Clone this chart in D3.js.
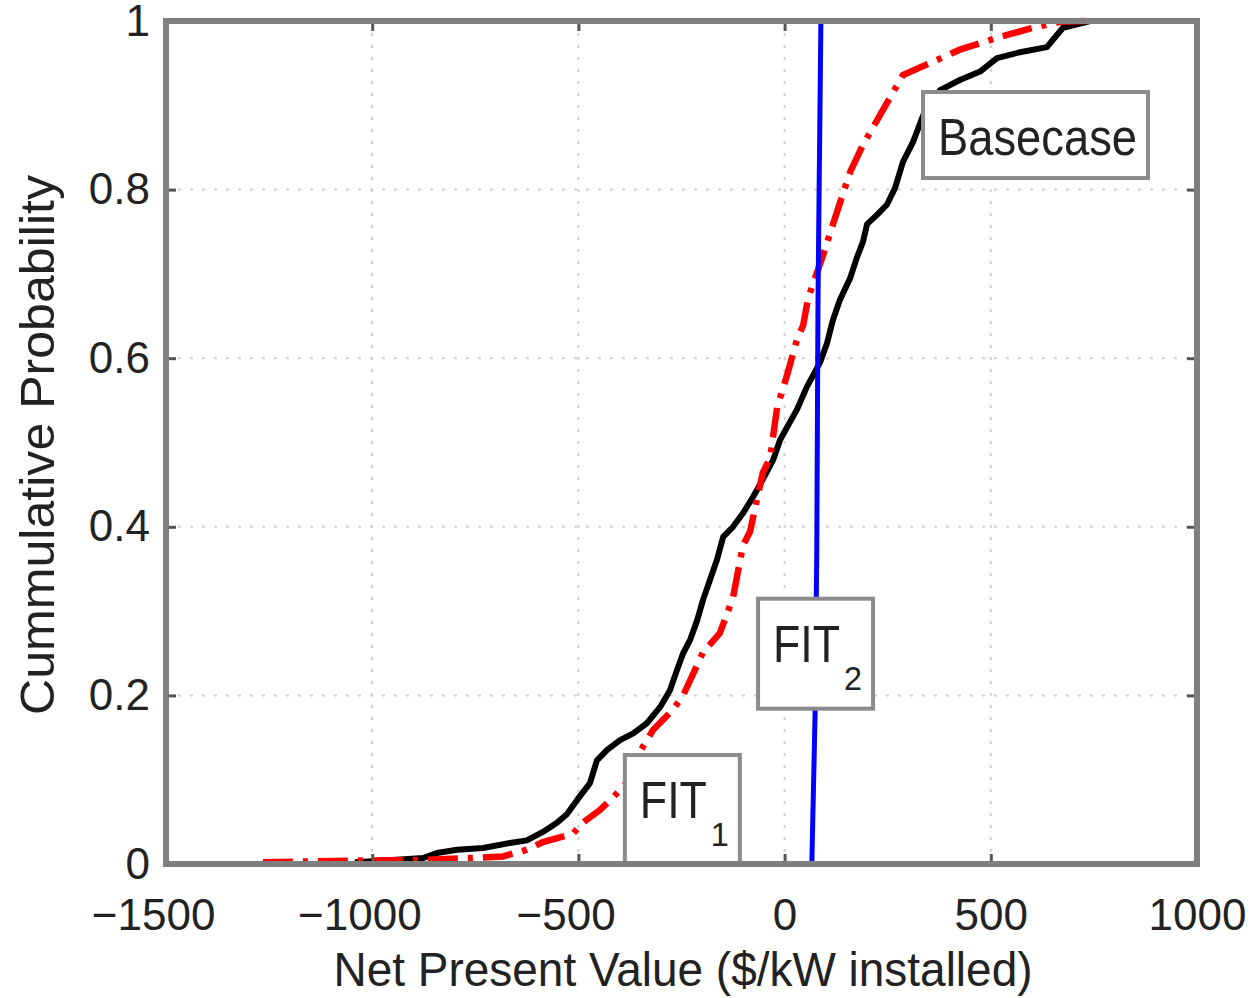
<!DOCTYPE html>
<html>
<head>
<meta charset="utf-8">
<script src="https://cdn.jsdelivr.net/npm/d3@7"></script>
<style>
  body { margin: 0; background: #fff; }
  svg text { font-family: "Liberation Sans", Arial, sans-serif; fill: #222; }
</style>
</head>
<body>
<script>
// NPV cumulative distributions
var baseX = [-1042,-940,-877,-843,-794,-731,-666,-625,-586,-552,-528,-503,-472,-455,-431,-399,-367,-334,-302,-278,-261,-246,-229,-212,-198,-181,-164,-149,-125,-101,-77,-53,-28,-11,6,30,54,74,86,103,117,134,159,175,190,200,224,248,268,287,311,336,377,425,474,515,571,636,675,741];
var baseY = [0.002,0.005,0.007,0.013,0.017,0.019,0.025,0.028,0.038,0.049,0.059,0.076,0.096,0.123,0.135,0.147,0.155,0.167,0.186,0.206,0.230,0.250,0.266,0.289,0.313,0.337,0.361,0.388,0.400,0.416,0.435,0.456,0.479,0.503,0.518,0.539,0.566,0.584,0.595,0.618,0.645,0.669,0.695,0.719,0.738,0.759,0.770,0.782,0.802,0.833,0.856,0.888,0.918,0.930,0.940,0.956,0.963,0.969,0.992,1.0];

var fit1X = [-1265,-1037,-867,-763,-683,-625,-586,-513,-489,-448,-416,-387,-351,-319,-271,-246,-212,-198,-157,-125,-101,-84,-53,-35,-18,6,30,45,57,93,122,159,190,231,287,352,425,515,602,668,728];
var fit1Y = [0.002,0.004,0.005,0.007,0.009,0.017,0.026,0.036,0.049,0.064,0.079,0.094,0.133,0.159,0.183,0.200,0.236,0.251,0.274,0.316,0.378,0.394,0.464,0.482,0.542,0.580,0.622,0.639,0.671,0.722,0.766,0.821,0.853,0.888,0.936,0.950,0.966,0.980,0.992,0.999,1.0];

var fit2X = [66,74,78,81,88];
var fit2Y = [0,0.18,0.37,0.67,1];

var xTicks = [-1500,-1000,-500,0,500,1000];
var yTicks = [0,0.2,0.4,0.6,0.8,1];
var yTickLabels = ["0","0.2","0.4","0.6","0.8","1"];

var annoText = ["Basecase","FIT","FIT"];
var annoSub = ["","2","1"];
var annoX = [372,-28,-351];
var annoY = [0.841,0.240,0.0546];
var annoWidth = [199,67,67];

var margin = {top: 21, right: 58, bottom: 134, left: 166};
var W = 1255, H = 998;
var width = W - margin.left - margin.right,
    height = H - margin.top - margin.bottom;

var svg = d3.select("body").append("svg")
    .attr("width", W)
    .attr("height", H);

var g = svg.append("g")
    .attr("transform", "translate(" + margin.left + "," + margin.top + ")");

var x = d3.scaleLinear().domain([-1500, 1000]).range([0, width]);
var y = d3.scaleLinear().domain([0, 1]).range([height, 0]);

// dotted grid
g.selectAll(".vgrid")
    .data(xTicks.slice(1, -1))
    .enter().append("line")
    .attr("x1", function(d) { return x(d); })
    .attr("x2", function(d) { return x(d); })
    .attr("y1", 0).attr("y2", height)
    .style("stroke", "#cfcfcf")
    .style("stroke-width", 2)
    .style("stroke-dasharray", "3,9");

g.selectAll(".hgrid")
    .data(yTicks.slice(1, -1))
    .enter().append("line")
    .attr("x1", 0).attr("x2", width)
    .attr("y1", function(d) { return y(d); })
    .attr("y2", function(d) { return y(d); })
    .style("stroke", "#cfcfcf")
    .style("stroke-width", 2)
    .style("stroke-dasharray", "3,9");

var line = d3.line()
    .x(function(d) { return x(d[0]); })
    .y(function(d) { return y(d[1]); });

g.append("path")
    .datum(d3.zip(baseX, baseY))
    .attr("d", line)
    .style("fill", "none")
    .style("stroke", "#000")
    .style("stroke-width", 6)
    .style("stroke-linejoin", "round");

g.append("path")
    .datum(d3.zip(fit1X, fit1Y))
    .attr("d", line)
    .style("fill", "none")
    .style("stroke", "#ff0000")
    .style("stroke-width", 6.5)
    .style("stroke-dasharray", "30,10,5,10");

g.append("path")
    .datum(d3.zip(fit2X, fit2Y))
    .attr("d", line)
    .style("fill", "none")
    .style("stroke", "#0000ff")
    .style("stroke-width", 5);

// text annotations with boxes
annoText.forEach(function(t, i) {
  var a = g.append("g");
  var box = a.append("rect");
  var txt = a.append("text")
      .attr("x", x(annoX[i]))
      .attr("y", y(annoY[i]))
      .style("font-size", "52px");
  txt.append("tspan")
      .attr("textLength", annoWidth[i])
      .attr("lengthAdjust", "spacingAndGlyphs")
      .text(t);
  if (annoSub[i]) {
    txt.append("tspan")
        .attr("dx", 4)
        .attr("dy", 28)
        .style("font-size", "34px")
        .attr("textLength", 18)
        .attr("lengthAdjust", "spacingAndGlyphs")
        .text(annoSub[i]);
  }
  var bb = txt.node().getBBox();
  box.attr("x", bb.x - 15)
      .attr("y", bb.y - 16)
      .attr("width", bb.width + 26)
      .attr("height", bb.height + 28)
      .style("fill", "#fff")
      .style("stroke", "#8c8c8c")
      .style("stroke-width", 4);
});

// axes with inward ticks
var xAxis = g.append("g")
    .attr("transform", "translate(0," + height + ")")
    .call(d3.axisBottom(x).tickValues(xTicks).tickSizeInner(-10).tickSizeOuter(0).tickPadding(35)
      .tickFormat(function(d) { return Math.abs(d); }));
xAxis.selectAll("text").style("font-size", "44px");
xAxis.selectAll(".tick").each(function(d) {
  if (d < 0) {
    var t = d3.select(this).select("text");
    var w = t.node().getComputedTextLength();
    d3.select(this).append("text")
        .attr("x", -w / 2)
        .attr("y", 35)
        .attr("dy", "0.71em")
        .style("text-anchor", "end")
        .style("font-size", "44px")
        .text("\u2212");
  }
});

var yAxis = g.append("g")
    .call(d3.axisLeft(y).tickValues(yTicks).tickSizeInner(-10).tickSizeOuter(0).tickPadding(16)
      .tickFormat(function(d, i) { return yTickLabels[i]; }));
yAxis.selectAll("text").style("font-size", "44px");

g.append("g").call(d3.axisTop(x).tickValues(xTicks).tickSizeInner(-10).tickSizeOuter(0).tickFormat(""));
g.append("g").attr("transform", "translate(" + width + ",0)")
    .call(d3.axisRight(y).tickValues(yTicks).tickSizeInner(-10).tickSizeOuter(0).tickFormat(""));

g.selectAll(".domain").remove();
g.selectAll(".tick line").style("stroke", "#555").style("stroke-width", 3);

g.append("rect")
    .attr("x", 0).attr("y", 0)
    .attr("width", width).attr("height", height)
    .style("fill", "none")
    .style("stroke", "#7f7f7f")
    .style("stroke-width", 6);

// axis titles
svg.append("text")
    .attr("x", 683)
    .attr("y", 986)
    .style("text-anchor", "middle")
    .style("font-size", "48px")
    .attr("textLength", 699)
    .attr("lengthAdjust", "spacingAndGlyphs")
    .text("Net Present Value ($/kW installed)");

svg.append("text")
    .attr("transform", "translate(54,445) rotate(-90)")
    .style("text-anchor", "middle")
    .style("font-size", "48px")
    .attr("textLength", 540)
    .attr("lengthAdjust", "spacingAndGlyphs")
    .text("Cummulative Probability");
</script>
</body>
</html>
